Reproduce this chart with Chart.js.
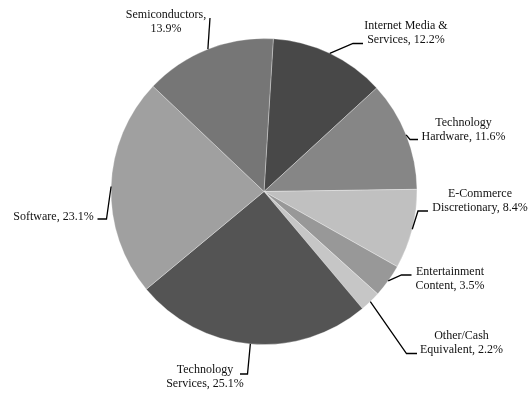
<!DOCTYPE html>
<html>
<head>
<meta charset="utf-8">
<script src="https://cdn.jsdelivr.net/npm/chart.js@4.4.1/dist/chart.umd.min.js"></script>
<style>
  html, body { margin: 0; padding: 0; background: #fff; }
  #wrap { width: 532px; height: 395px; }
</style>
</head>
<body>
<div id="wrap"><canvas id="pie" width="532" height="395"></canvas></div>
<script>
// sector weights, clockwise from 12 o'clock
var categories = [
  'Internet Media &\nServices',
  'Technology\nHardware',
  'E-Commerce\nDiscretionary',
  'Entertainment\nContent',
  'Other/Cash\nEquivalent',
  'Technology\nServices',
  'Software',
  'Semiconductors'
];
var weights = [12.2, 11.6, 8.4, 3.5, 2.2, 25.1, 23.1, 13.9];
var shades = ['#484848', '#868686', '#c0c0c0', '#989898', '#c6c6c6', '#545454', '#a0a0a0', '#767676'];

// where each callout text sits and how its leader bends (canvas px)
var callouts = [
  { x: 406, y: 25.5, path: [[353, 43.5], [363, 43.5]] },
  { x: 463.5, y: 122.5, path: [[410, 139.5], [418, 139.5]] },
  { x: 480, y: 193.5, path: [[418, 211], [428, 211]] },
  { x: 450, y: 271.5, path: [[401.5, 275], [411.5, 275]] },
  { x: 461.5, y: 336, path: [[406.5, 353.5], [417, 353.5]] },
  { x: 205, y: 370, path: [[247.5, 374], [240, 374]] },
  { x: 53.5, y: 216.5, path: [[106.5, 219], [97.5, 219]] },
  { x: 166, y: 15, path: [[210, 18]], valueBelow: true }
];

var calloutPlugin = {
  id: 'callouts',
  afterDatasetsDraw: function (chart) {
    var ctx = chart.ctx;
    var arcs = chart.getDatasetMeta(0).data;
    ctx.save();
    ctx.strokeStyle = '#000';
    ctx.lineWidth = 1.3;
    ctx.fillStyle = '#111';
    ctx.font = '12px "Liberation Serif", "Times New Roman", serif';
    ctx.textAlign = 'center';
    ctx.textBaseline = 'middle';
    arcs.forEach(function (arc, i) {
      var p = arc.getProps(['x', 'y', 'startAngle', 'endAngle', 'outerRadius'], true);
      var mid = (p.startAngle + p.endAngle) / 2;
      var c = callouts[i];
      ctx.beginPath();
      ctx.moveTo(p.x + Math.cos(mid) * p.outerRadius, p.y + Math.sin(mid) * p.outerRadius);
      c.path.forEach(function (pt) { ctx.lineTo(pt[0], pt[1]); });
      ctx.stroke();
      var lines = categories[i].split('\n');
      var pct = weights[i].toFixed(1) + '%';
      if (c.valueBelow) {
        lines[lines.length - 1] += ',';
        lines.push(pct);
      } else {
        lines[lines.length - 1] += ', ' + pct;
      }
      lines.forEach(function (t, k) {
        ctx.fillText(t, c.x, c.y + k * 14);
      });
    });
    ctx.restore();
  }
};

new Chart(document.getElementById('pie'), {
  type: 'pie',
  data: {
    labels: categories,
    datasets: [{
      data: weights,
      backgroundColor: shades,
      borderColor: 'rgba(255,255,255,0.3)',
      borderWidth: 1
    }]
  },
  options: {
    responsive: false,
    animation: false,
    rotation: 3.5,
    layout: { padding: { top: 38, bottom: 50, left: 110, right: 114 } },
    plugins: {
      legend: { display: false },
      tooltip: { enabled: false }
    }
  },
  plugins: [calloutPlugin]
});
</script>
</body>
</html>
